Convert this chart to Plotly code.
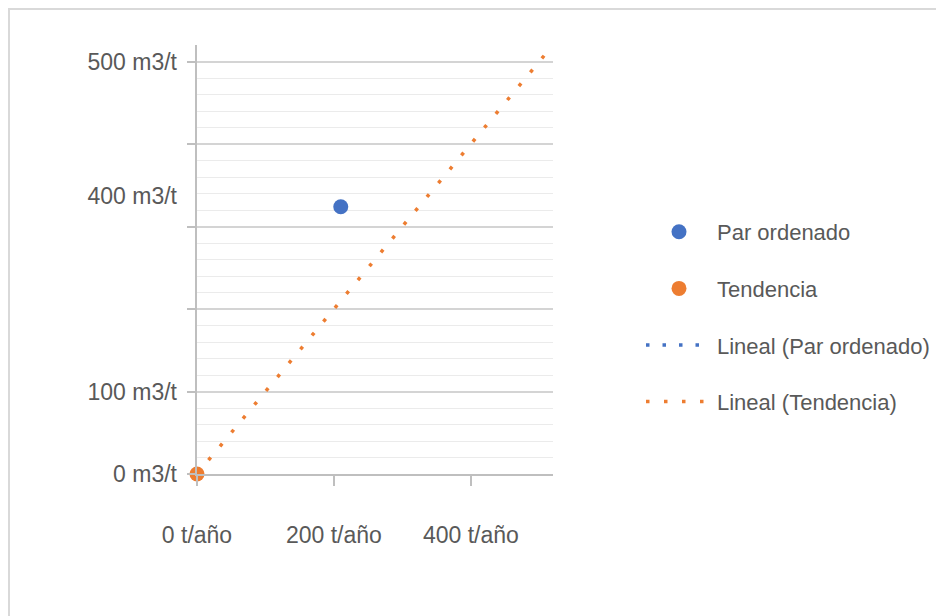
import plotly.graph_objects as go

# Data
par_x = [210]
par_y = [324]
tend_x = [0]
tend_y = [0]
trend_x = [0, 520]
trend_y = [0, 520]

xtick_vals = [0, 200, 400]
xtick_text = ["0 t/año", "200 t/año", "400 t/año"]
ytick_pos = [0, 100, 337, 500]
ytick_text = ["0 m3/t", "100 m3/t", "400 m3/t", "500 m3/t"]

BLUE = "#4472C4"
ORANGE = "#ED7D31"
TXT = "#595959"
FONT = "Liberation Sans"

fig = go.Figure()

fig.add_trace(go.Scatter(x=par_x, y=par_y, mode="markers", name="Par ordenado",
                         marker=dict(color=BLUE, size=15), legendgroup="a"))
fig.add_trace(go.Scatter(x=tend_x, y=tend_y, mode="markers", name="Tendencia",
                         marker=dict(color=ORANGE, size=15), legendgroup="b",
                         cliponaxis=False))
fig.add_trace(go.Scatter(x=[None], y=[None], mode="lines", name="Lineal (Par ordenado)",
                         line=dict(color=BLUE, width=3.5, dash="3.5px,13px"), legendgroup="c"))
fig.add_trace(go.Scatter(x=trend_x, y=trend_y, mode="lines", name="Lineal (Tendencia)",
                         line=dict(color=ORANGE, width=3.5, dash="3.5px,14.5px"), legendgroup="d"))
# helper trace for the grid axis
fig.add_trace(go.Scatter(x=[None], y=[None], yaxis="y2", showlegend=False, hoverinfo="skip"))

fig.update_layout(
    width=944, height=616,
    paper_bgcolor="white", plot_bgcolor="white",
    margin=dict(l=189, r=399, t=37, b=150, autoexpand=False),
    font=dict(family=FONT, color=TXT),
    xaxis=dict(range=[0, 520], tickvals=xtick_vals, ticktext=xtick_text,
               showgrid=False, zeroline=False, showline=True, linecolor="#bfbfbf", linewidth=1.5,
               ticks="outside", ticklen=10, tickcolor="#bfbfbf", tickwidth=1.5,
               ticklabelstandoff=30, tickfont=dict(size=23, color=TXT), automargin=False),
    yaxis=dict(range=[0, 520], tickvals=ytick_pos, ticktext=ytick_text,
               showgrid=False, zeroline=False, showline=False, ticks="",
               ticklabelstandoff=19, tickfont=dict(size=23, color=TXT), automargin=False),
    yaxis2=dict(range=[0, 520], overlaying="y", side="left", tick0=0, dtick=100,
                showgrid=True, gridcolor="#d4d4d4", gridwidth=1.5, zeroline=False,
                showline=True, linecolor="#bfbfbf", linewidth=1.5,
                ticks="outside", ticklen=8, tickcolor="#bfbfbf", tickwidth=1.5,
                showticklabels=False, automargin=False,
                minor=dict(tick0=0, dtick=20, showgrid=True, gridcolor="#ebebeb", gridwidth=1.2, ticks="")),
    legend=dict(x=(641 - 197) / 356, y=(474 - 211) / 429, xanchor="left", yanchor="top",
                font=dict(size=22, color=TXT, family=FONT),
                tracegroupgap=25, itemwidth=66, bgcolor="rgba(0,0,0,0)"),
    showlegend=True,
)

fig.add_shape(type="rect", xref="paper", yref="paper",
              x0=(1 - 189) / 356, x1=3.0, y0=(466 - 1) / 429, y1=-1.0,
              line=dict(color="#d9d9d9", width=2), fillcolor="rgba(0,0,0,0)", layer="below")

fig.write_html("out.html")
